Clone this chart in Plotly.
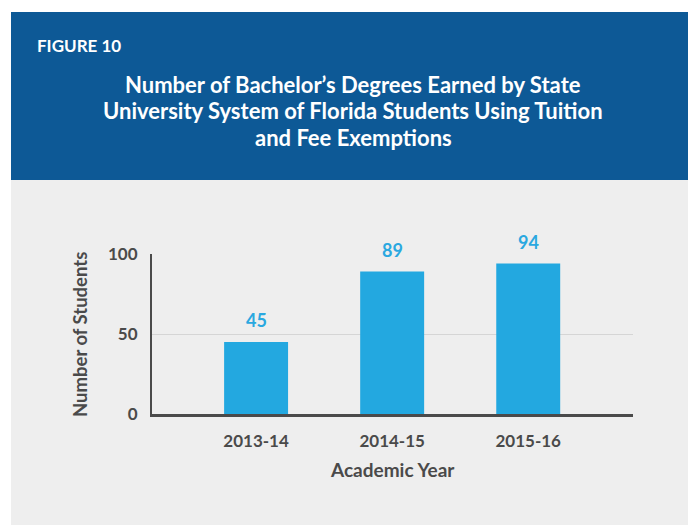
import plotly.graph_objects as go

categories = ["2013-14", "2014-15", "2015-16"]
values = [45, 89, 94]
y_ticks = [0, 50, 100]
y_tick_labels = ["0", "50", "100"]
title_lines = [
    "Number of Bachelor’s Degrees Earned by State",
    "University System of Florida Students Using Tuition",
    "and Fee Exemptions",
]

W, H = 688, 525
FONT = "Lato"
DARK = "#4a4a4a"
BLUE_HDR = "#0d5996"
BAR = "#23a8e0"
PANEL = "#eeeeee"

def px(y):
    return 1 - y / H

fig = go.Figure()
fig.add_trace(go.Bar(
    x=categories, y=values, marker=dict(color=BAR, line=dict(width=0)),
    width=0.47, hoverinfo="skip",
))

annotations = []
for c, v in zip(categories, values):
    annotations.append(dict(
        x=c, y=v, xref="x", yref="y", text=str(v), showarrow=False,
        yanchor="bottom", yshift=9,
        font=dict(family=FONT, size=18, color="#2aa8e0", weight="bold"),
    ))

annotations.append(dict(
    x=35 / W, y=px(45), xref="paper", yref="paper", text="FIGURE 10",
    showarrow=False, xanchor="left", yanchor="middle",
    font=dict(family=FONT, size=17, color="white", weight="bold")))

for i, line in enumerate(title_lines):
    annotations.append(dict(
        x=353 / W, y=px(85 + 26 * i), xref="paper", yref="paper", text=line,
        showarrow=False, xanchor="center", yanchor="middle",
        font=dict(family=FONT, size=22, color="white", weight="bold")))

annotations += [
    dict(x=80 / W, y=px(335), xref="paper", yref="paper", text="Number of Students",
         showarrow=False, textangle=-90, xanchor="center", yanchor="middle",
         font=dict(family=FONT, size=18.5, color=DARK, weight="bold")),
    dict(x=392 / W, y=px(469), xref="paper", yref="paper", text="Academic Year",
         showarrow=False, xanchor="center", yanchor="middle",
         font=dict(family=FONT, size=19, color=DARK, weight="bold")),
]

shapes = [
    dict(type="rect", xref="paper", yref="paper", x0=11 / W, x1=1, y0=px(180), y1=px(12),
         fillcolor=BLUE_HDR, line=dict(width=0), layer="below"),
    dict(type="rect", xref="paper", yref="paper", x0=11 / W, x1=1, y0=0, y1=px(180),
         fillcolor=PANEL, line=dict(width=0), layer="below"),
]

fig.update_layout(
    width=W, height=H,
    margin=dict(l=0, r=0, t=0, b=0, pad=0),
    paper_bgcolor="white",
    plot_bgcolor="rgba(0,0,0,0)",
    showlegend=False,
    annotations=annotations,
    shapes=shapes,
    xaxis=dict(
        domain=[152 / W, 633 / W],
        range=[-0.765, 2.77],
        automargin=False,
        showline=True, linecolor=DARK, linewidth=2.5,
        showgrid=False, ticks="", ticklabelstandoff=10,
        tickfont=dict(family=FONT, size=17, color=DARK, weight="bold"),
        fixedrange=True,
    ),
    yaxis=dict(
        domain=[px(414), px(254)],
        range=[0, 100],
        automargin=False,
        tickvals=y_ticks, ticktext=y_tick_labels,
        showline=True, linecolor=DARK, linewidth=2,
        showgrid=True, gridcolor="#d5d5d5", gridwidth=1,
        zeroline=False, ticks="", ticklabelstandoff=9,
        tickfont=dict(family=FONT, size=17, color=DARK, weight="bold"),
        fixedrange=True,
    ),
)

fig.write_html(
    "out.html",
    config={"displayModeBar": False},
    post_script="document.body.style.margin='0';document.body.style.overflow='hidden';",
)
